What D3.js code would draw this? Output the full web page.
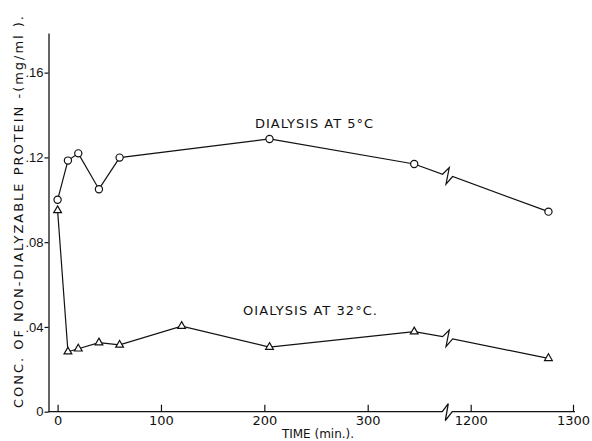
<!DOCTYPE html>
<html>
<head>
<meta charset="utf-8">
<script src="https://cdn.jsdelivr.net/npm/d3@7"></script>
<style>
  html, body { margin: 0; padding: 0; background: #fff; }
  svg { display: block; }
  text { font-family: "DejaVu Sans", sans-serif; fill: #111; }
</style>
</head>
<body>
<svg id="chart" width="592" height="441"></svg>
<script>
// ---- data ----
const times = [0, 10, 20, 40, 60, 120, 205, 345, 1276];
const at5Times = [0, 10, 20, 40, 60, 205, 345, 1276];
const at5C = [0.100, 0.1185, 0.1219, 0.105, 0.1199, 0.1287, 0.1169, 0.0944];
const at32C = [0.095, 0.0283, 0.0297, 0.0326, 0.0315, 0.0404, 0.0305, 0.0378, 0.0252];
const yTicks = [0, 0.04, 0.08, 0.12, 0.16];
const xTicksLeft = [0, 100, 200, 300];
const xTicksRight = [1200, 1300];
const seriesLabels = ["DIALYSIS AT 5°C", "OIALYSIS AT 32°C."];
const yTitle = "CONC. OF NON-DIALYZABLE PROTEIN -(mg/ml ).";
const xTitle = "TIME (min.).";
const breakAt = 377; // time value (left segment) where the axis is broken

// ---- scales ----
const svg = d3.select("#chart");
const y = d3.scaleLinear().domain([0, 0.1787]).range([411.7, 33]);
const xL = d3.scaleLinear().domain([0, 300]).range([57.6, 367.7]);
const xR = d3.scaleLinear().domain([1200, 1300]).range([470.7, 573]);
const x = t => (t <= 600 ? xL(t) : xR(t));
const axisX = 48.5, baseY = y(0);
const bx = xL(breakAt);

const ink = "#111";

// ---- y axis ----
const yAxis = d3.axisLeft(y)
  .tickValues(yTicks)
  .tickSizeInner(4).tickSizeOuter(0).tickPadding(1)
  .tickFormat(d => d === 0 ? "0" : d3.format(".2f")(d).replace(/^0/, ""));
const gy = svg.append("g").attr("transform", `translate(${axisX},0)`).call(yAxis);
gy.select(".domain").attr("stroke", ink).attr("stroke-width", 1.3);
gy.selectAll(".tick line").attr("stroke", ink).attr("stroke-width", 1.2);
gy.selectAll(".tick text").style("font-size", "13px")
  .style("font-family", "Liberation Sans, Arial, sans-serif").attr("fill", ink);

// ---- x axis (two segments) ----
function xAxisSeg(scale, ticks) {
  const ax = d3.axisBottom(scale).tickValues(ticks)
    .tickSizeInner(-7).tickSizeOuter(0).tickPadding(4).tickFormat(d3.format("d"));
  const g = svg.append("g").attr("transform", `translate(0,${baseY})`).call(ax);
  g.select(".domain").remove();
  g.selectAll(".tick line").attr("stroke", ink).attr("stroke-width", 1.2);
  g.selectAll(".tick text").style("font-size", "13px").style("font-family", "DejaVu Sans, sans-serif").attr("fill", ink);
  return g;
}
xAxisSeg(xL, xTicksLeft);
xAxisSeg(xR, xTicksRight);

// x baseline with break
svg.append("path")
  .attr("d", `M${axisX},${baseY} L${bx - 5},${baseY} L${bx + 1},${baseY - 8} L${bx - 2},${baseY + 9} L${bx + 5},${baseY} L${xR(1300) + 2},${baseY}`)
  .attr("fill", "none").attr("stroke", ink).attr("stroke-width", 1.3);

// ---- series lines with break zigzag ----
function seriesPath(ts, vs) {
  const pts = ts.map((t, i) => [x(t), y(vs[i])]);
  const out = [];
  for (let i = 0; i < pts.length; i++) {
    if (i > 0 && pts[i - 1][0] < bx && pts[i][0] > bx) {
      const [x0, y0] = pts[i - 1], [x1, y1] = pts[i];
      const by = y0 + (y1 - y0) * (bx - x0) / (x1 - x0);
      out.push([bx - 4.7, by - 1.5], [bx + 2, by - 8.2], [bx - 1.3, by + 8.5], [bx + 5.3, by + 0.8]);
    }
    out.push(pts[i]);
  }
  return d3.line()(out);
}

svg.append("path").attr("d", seriesPath(at5Times, at5C))
  .attr("fill", "none").attr("stroke", ink).attr("stroke-width", 1.2);
svg.append("path").attr("d", seriesPath(times, at32C))
  .attr("fill", "none").attr("stroke", ink).attr("stroke-width", 1.2);

// markers
svg.append("g").selectAll("circle")
  .data(at5Times.map((t, i) => [t, at5C[i]]))
  .join("circle")
  .attr("cx", d => x(d[0])).attr("cy", d => y(d[1])).attr("r", 3.6)
  .attr("fill", "#fff").attr("stroke", ink).attr("stroke-width", 1.2);

svg.append("g").selectAll("path")
  .data(times.map((t, i) => [t, at32C[i]]))
  .join("path")
  .attr("transform", d => `translate(${x(d[0])},${y(d[1])})`)
  .attr("d", d3.symbol(d3.symbolTriangle, 26))
  .attr("fill", "#fff").attr("stroke", ink).attr("stroke-width", 1.2);

// ---- labels ----
svg.append("text").attr("x", 255).attr("y", 128)
  .attr("textLength", 118).attr("lengthAdjust", "spacing")
  .style("font-size", "13px").text(seriesLabels[0]);
svg.append("text").attr("x", 243).attr("y", 315)
  .attr("textLength", 134).attr("lengthAdjust", "spacing")
  .style("font-size", "13px").text(seriesLabels[1]);

svg.append("text")
  .attr("transform", "translate(23,212) rotate(-90)")
  .attr("text-anchor", "middle")
  .attr("textLength", 392).attr("lengthAdjust", "spacing")
  .style("font-size", "13px").text(yTitle);

svg.append("text").attr("x", 318).attr("y", 438)
  .attr("text-anchor", "middle")
  .style("font-size", "12px").text(xTitle);
</script>
</body>
</html>
